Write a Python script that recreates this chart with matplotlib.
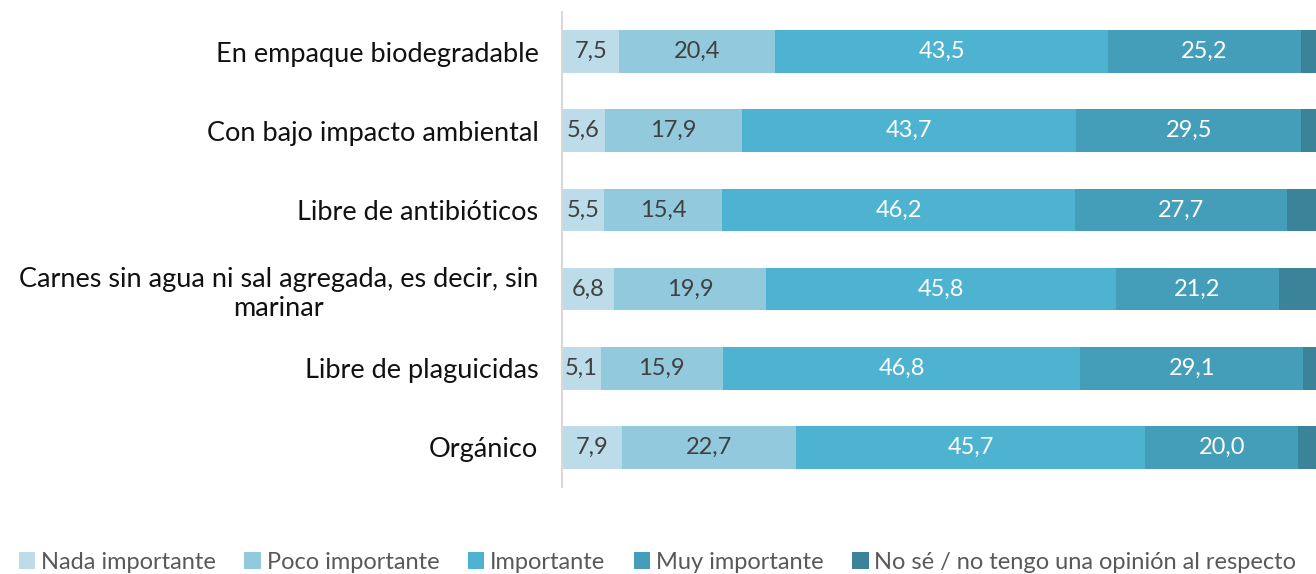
import matplotlib.pyplot as plt
import numpy as np

plt.rcParams['font.family'] = ['Lato', 'DejaVu Sans']

categorias = ['En empaque biodegradable', 'Con bajo impacto ambiental', 'Libre de antibióticos',
              'Carnes sin agua ni sal agregada, es decir, sin\nmarinar', 'Libre de plaguicidas', 'Orgánico']
series = ['Nada importante', 'Poco importante', 'Importante', 'Muy importante',
          'No sé / no tengo una opinión al respecto']
nada = [7.5, 5.6, 5.5, 6.8, 5.1, 7.9]
poco = [20.4, 17.9, 15.4, 19.9, 15.9, 22.7]
importante = [43.5, 43.7, 46.2, 45.8, 46.8, 45.7]
muy = [25.2, 29.5, 27.7, 21.2, 29.1, 20.0]
nose = [3.4, 3.3, 5.2, 6.3, 3.1, 3.7]

colores = ['#BCDCE9', '#93C9DD', '#4EB3D1', '#459EB9', '#3A8399']
txt_col = ['#404040', '#404040', 'white', 'white', 'white']

fig = plt.figure(figsize=(13.16, 5.74), dpi=100)
ax = fig.add_axes([562 / 1316, 1 - 487 / 574, 1 - 562 / 1316, (487 - 12) / 574])

y = np.arange(len(categorias))
left = np.zeros(len(categorias))
for vals, name, c, tc in zip([nada, poco, importante, muy, nose], series, colores, txt_col):
    vals = np.array(vals)
    ax.barh(y, vals, left=left, height=0.54, color=c, label=name)
    if name != series[-1]:
        for yi, v, l in zip(y, vals, left):
            ax.text(l + v / 2, yi, f'{v:.1f}'.replace('.', ','), ha='center', va='center',
                    color=tc, fontsize=17)
    left += vals

ax.set_xlim(0, 98.6)
ax.set_ylim(5.5, -0.5)
ax.set_yticks(y)
ax.set_yticklabels(categorias, fontsize=19.5, color='#111111', multialignment='center')
ax.tick_params(axis='y', length=0, pad=17)
ax.set_xticks([])
for s in ['top', 'right', 'bottom']:
    ax.spines[s].set_visible(False)
ax.spines['left'].set_color('#D9D9D9')
ax.spines['left'].set_linewidth(1.5)

fig.legend(loc='lower left', bbox_to_anchor=(-0.002, -0.035), ncol=5, frameon=False,
           fontsize=17, labelcolor='#595959', handlelength=0.7, handleheight=0.7,
           handletextpad=0.25, columnspacing=1.2)

fig.savefig('out.png', dpi=100)
